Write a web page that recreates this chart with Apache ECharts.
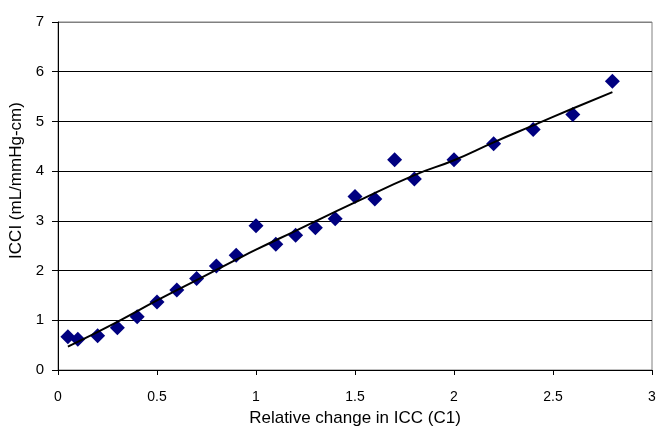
<!DOCTYPE html>
<html>
<head>
<meta charset="utf-8">
<script src="https://cdn.jsdelivr.net/npm/echarts@6/dist/echarts.min.js"></script>
<style>html,body{margin:0;padding:0;background:#fff}#c{width:657px;height:427px}</style>
</head>
<body>
<div id="c"></div>
<script>
const xValues = [0.05,0.1,0.2,0.3,0.4,0.5,0.6,0.7,0.8,0.9,1.0,1.1,1.2,1.3,1.4,1.5,1.6,1.7,1.8,2.0,2.2,2.4,2.6,2.8];
const yValues = [0.67,0.62,0.69,0.85,1.07,1.37,1.61,1.84,2.09,2.31,2.90,2.53,2.71,2.86,3.04,3.49,3.44,4.23,3.84,4.23,4.55,4.84,5.14,5.81];
const trendX = [0.05,0.3,0.5,0.7,0.9,1.0,1.2,1.5,1.8,2.0,2.2,2.4,2.6,2.8];
const trendY = [0.47,0.97,1.40,1.81,2.22,2.42,2.80,3.37,3.92,4.22,4.58,4.92,5.26,5.59];
const xTitle = 'Relative change in ICC (C1)';
const yTitle = 'ICCI (mL/mmHg-cm)';

const scatterData = xValues.map((x,i)=>[x,yValues[i]]);
const trendData = trendX.map((x,i)=>[x,trendY[i]]);
const font = 'Liberation Sans, Arial, sans-serif';
const chart = echarts.init(document.getElementById('c'));
chart.setOption({
  animation:false,
  backgroundColor:'#fff',
  grid:{left:58,right:5,top:22,bottom:57,show:true,borderColor:'#808080',borderWidth:1,
    containLabel:false,outerBoundsMode:'none'},
  xAxis:{type:'value',min:0,max:3,interval:0.5,
    name:xTitle,nameLocation:'middle',nameGap:40,
    nameTextStyle:{fontFamily:font,fontSize:17,color:'#000'},
    axisLine:{show:true,onZero:false,lineStyle:{color:'#000',width:1}},
    axisTick:{show:true,length:5,lineStyle:{color:'#000'}},
    axisLabel:{fontFamily:font,fontSize:14,color:'#000',margin:20},
    splitLine:{show:false}},
  yAxis:{type:'value',min:0,max:7,interval:1,
    name:yTitle,nameLocation:'middle',nameGap:27,
    nameTextStyle:{fontFamily:font,fontSize:17,color:'#000',padding:[0,0,0,31]},
    axisLine:{show:true,onZero:false,lineStyle:{color:'#000',width:1}},
    axisTick:{show:true,length:6,lineStyle:{color:'#000'}},
    axisLabel:{fontFamily:font,fontSize:15,color:'#000',margin:14},
    splitLine:{show:true,lineStyle:{color:['#000','#000','#000','#000','#000','#000','#000','#808080'],width:1}}},
  series:[
    {type:'scatter',data:scatterData,symbol:'diamond',symbolSize:[15,15],
      itemStyle:{color:'#000080',opacity:1},z:3},
    {type:'line',data:trendData,smooth:true,showSymbol:false,symbol:'none',
      lineStyle:{color:'#000',width:2},z:4}
  ]
});
</script>
</body>
</html>
